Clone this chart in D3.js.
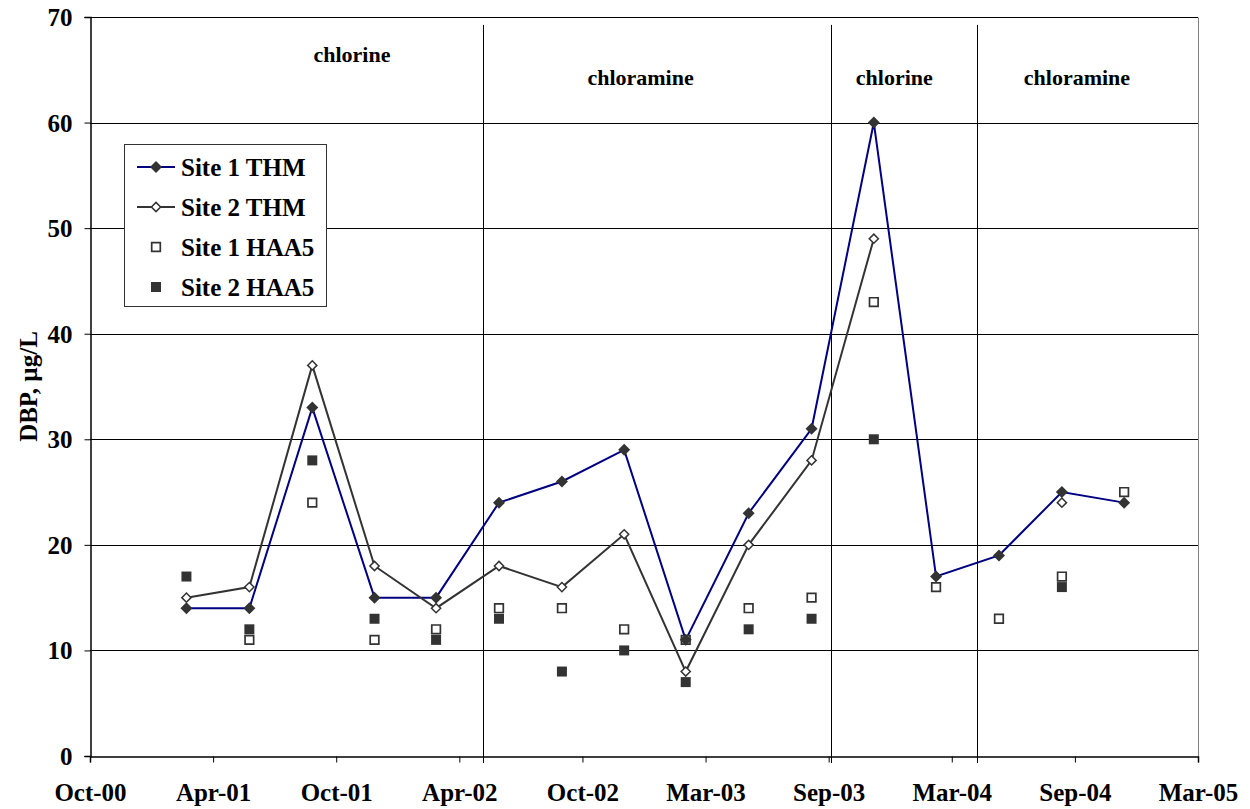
<!DOCTYPE html>
<html><head><meta charset="utf-8">
<script src="https://cdn.jsdelivr.net/npm/d3@7"></script>
<style>
html,body{margin:0;padding:0;background:#fff;}
text{font-family:"Liberation Serif","Times New Roman",serif;font-weight:bold;fill:#000;}
</style></head>
<body>
<svg id="chart" width="1250" height="809"></svg>
<script>
// ---- data ----
const sampleDates = ["2001-03-01","2001-06-01","2001-09-01","2001-12-01","2002-03-01","2002-06-01",
  "2002-09-01","2002-12-01","2003-03-01","2003-06-01","2003-09-01","2003-12-01",
  "2004-03-01","2004-06-01","2004-09-01","2004-12-01"];
const site1THM  = [14,14,33,15,15,24,26,29,11,23,31,60,17,19,25,24];
const site2THM  = [15,16,37,18,14,18,16,21,8,20,28,49,null,null,24,null];
const site1HAA5 = [null,11,24,11,12,14,14,12,11,14,15,43,16,13,17,25];
const site2HAA5 = [17,12,28,13,11,13,8,10,7,12,13,30,null,null,16,null];
const xTickLabels = ["Oct-00","Apr-01","Oct-01","Apr-02","Oct-02","Mar-03","Sep-03","Mar-04","Sep-04","Mar-05"];
const xStart = "2000-10-11", xTickStepDays = 180;
const yTicks = [0,10,20,30,40,50,60,70];
const phaseDividers = ["2002-05-08","2003-09-30","2004-04-30"];
const phaseLabels = ["chlorine","chloramine","chlorine","chloramine"];
const phaseLabelDates = ["2001-10-29","2002-12-25","2003-12-31","2004-09-23"];
const phaseLabelValues = [65.7,63.6,63.6,63.6];
const seriesNames = ["Site 1 THM","Site 2 THM","Site 1 HAA5","Site 2 HAA5"];

// ---- layout ----
const svg = d3.select("#chart");
const m = {left:90, right:1198, top:17, bottom:756};
const parse = d3.utcParse("%Y-%m-%d");
const t0 = parse(xStart);
const tickDates = xTickLabels.map((_,i)=>d3.utcDay.offset(t0, i*xTickStepDays));
const x = d3.scaleUtc().domain([t0, tickDates[tickDates.length-1]]).range([m.left, m.right]);
const y = d3.scaleLinear().domain([0,70]).range([m.bottom, m.top]);
const dates = sampleDates.map(parse);
const crisp = v => Math.round(v)+0.5;

// gridlines
svg.append("g").selectAll("line").data(yTicks.filter(d=>d>0)).join("line")
  .attr("x1",m.left).attr("x2",m.right)
  .attr("y1",d=>crisp(y(d))).attr("y2",d=>crisp(y(d)))
  .attr("stroke","#000").attr("stroke-width",1);
// right border
svg.append("line").attr("x1",crisp(m.right)).attr("x2",crisp(m.right))
  .attr("y1",crisp(y(70))).attr("y2",crisp(y(0))).attr("stroke","#808080").attr("stroke-width",1);

// phase dividers
svg.append("g").selectAll("line").data(phaseDividers.map(parse)).join("line")
  .attr("x1",d=>crisp(x(d))).attr("x2",d=>crisp(x(d)))
  .attr("y1",y(69.25)).attr("y2",y(0)+7)
  .attr("stroke","#000").attr("stroke-width",1);
svg.append("g").selectAll("text").data(phaseLabels).join("text")
  .attr("x",(d,i)=>x(parse(phaseLabelDates[i]))).attr("y",(d,i)=>y(phaseLabelValues[i]))
  .attr("text-anchor","middle").style("font-size","22px").text(d=>d);

// axes
const yAxis = d3.axisLeft(y).tickValues(yTicks).tickSize(6).tickPadding(12);
const gy = svg.append("g").attr("transform",`translate(${crisp(m.left)},0)`).call(yAxis);
gy.select(".domain").attr("stroke","#000").attr("stroke-width",1.5);
gy.selectAll(".tick line").attr("stroke","#000");
gy.selectAll(".tick text").style("font-size","25px").style("font-family","Liberation Serif").attr("dy","0.34em");

const xAxis = d3.axisBottom(x).tickValues(tickDates).tickFormat((d,i)=>xTickLabels[i]).tickSize(6).tickPadding(21);
const gx = svg.append("g").attr("transform",`translate(0,${crisp(m.bottom)})`).call(xAxis);
gx.select(".domain").attr("stroke","#000").attr("stroke-width",1.5);
gx.selectAll(".tick line").attr("stroke","#000");
gx.selectAll(".tick text").style("font-size","25px").style("font-family","Liberation Serif");

// y title
svg.append("text").attr("transform",`translate(28,${(m.top+m.bottom)/2}) rotate(-90)`)
  .attr("text-anchor","middle").attr("dy","0.35em").style("font-size","25px").text("DBP, µg/L");

// lines
const line = d3.line().defined(d=>d[1]!=null).x(d=>x(d[0])).y(d=>y(d[1]));
const pts = arr => dates.map((d,i)=>[d,arr[i]]);
svg.append("path").datum(pts(site1THM)).attr("d",line).attr("fill","none").attr("stroke","#000080").attr("stroke-width",2);
svg.append("path").datum(pts(site2THM)).attr("d",line).attr("fill","none").attr("stroke","#333").attr("stroke-width",2);

// markers
const diamond = s => `M0,${-s}L${s},0L0,${s}L${-s},0Z`;
const square = s => `M${-s},${-s}H${s}V${s}H${-s}Z`;
function markers(arr, path, fill, stroke, sw){
  svg.append("g").selectAll("path").data(pts(arr).filter(d=>d[1]!=null)).join("path")
    .attr("transform",d=>`translate(${x(d[0])},${y(d[1])})`)
    .attr("d",path).attr("fill",fill).attr("stroke",stroke).attr("stroke-width",sw);
}
markers(site1HAA5, square(4.3), "#fff", "#333", 1.7);
markers(site2HAA5, square(5), "#333", "none", 0);
markers(site1THM, diamond(6), "#333", "none", 0);
markers(site2THM, diamond(4.6), "#fff", "#333", 1.5);

// legend
const lg = svg.append("g");
lg.append("rect").attr("x",124.5).attr("y",144.5).attr("width",202).attr("height",162)
  .attr("fill","#fff").attr("stroke","#333").attr("stroke-width",1);
const ly = [167,207,247,287];
const legendStyle = [
  {line:"#000080", mk:diamond(6), fill:"#333", stroke:"none", sw:0},
  {line:"#333", mk:diamond(4.6), fill:"#fff", stroke:"#333", sw:1.5},
  {line:null, mk:square(4.3), fill:"#fff", stroke:"#333", sw:1.7},
  {line:null, mk:square(5), fill:"#333", stroke:"none", sw:0}];
seriesNames.forEach((n,i)=>{
  const s = legendStyle[i];
  if(s.line) lg.append("line").attr("x1",137).attr("x2",175).attr("y1",ly[i]).attr("y2",ly[i]).attr("stroke",s.line).attr("stroke-width",2);
  lg.append("path").attr("transform",`translate(156,${ly[i]})`).attr("d",s.mk).attr("fill",s.fill).attr("stroke",s.stroke).attr("stroke-width",s.sw);
  lg.append("text").attr("x",181).attr("y",ly[i]).attr("dy","0.35em").style("font-size","25px").text(n);
});
</script>
</body></html>
